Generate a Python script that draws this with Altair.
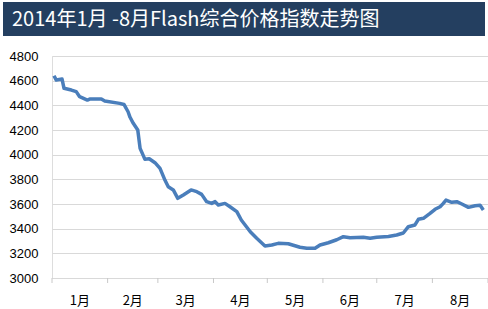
import altair as alt
import pandas as pd

title_text = "2014年1月 -8月Flash综合价格指数走势图"

days = [1.1, 2.4, 5.6, 6.7, 10.8, 13.5, 15.4, 19.7, 21.0, 27.5, 29.4, 37.7, 40.1, 42.4, 43.5,
        45.3, 47.8, 49.1, 51.8, 54.2, 57.4, 60.2, 63.0, 64.8, 67.6, 70.1, 73.2, 77.5, 80.7,
        83.4, 86.2, 89.0, 90.9, 92.7, 96.4, 99.2, 103.0, 105.5, 110.5, 114.1, 118.7, 122.5,
        126.1, 131.7, 138.2, 142.0, 146.6, 149.4, 154.0, 158.7, 162.4, 166.1, 173.5, 177.3,
        181.0, 187.5, 192.1, 195.8, 198.6, 202.3, 204.2, 207.0, 210.7, 213.5, 216.3, 218.1,
        219.6, 222.8, 225.6, 228.4, 232.1, 235.8, 238.6, 240.4]
values = [4640, 4605, 4613, 4538, 4524, 4511, 4470, 4443, 4451, 4451, 4435, 4416, 4407, 4348, 4303,
          4254, 4200, 4051, 3962, 3967, 3935, 3889, 3792, 3740, 3714, 3646, 3673, 3714, 3700,
          3678, 3619, 3605, 3619, 3592, 3605, 3578, 3538, 3470, 3375, 3322, 3260, 3268,
          3281, 3278, 3249, 3241, 3241, 3268, 3286, 3310, 3335, 3326, 3330, 3322,
          3330, 3337, 3349, 3365, 3416, 3430, 3476, 3484, 3524, 3557, 3578, 3605,
          3632, 3614, 3619, 3600, 3573, 3586, 3589, 3551]

month_labels = ["1月", "2月", "3月", "4月", "5月", "6月", "7月", "8月"]
month_days = [31, 28, 31, 30, 31, 30, 31, 31]
y_ticks = [3000, 3200, 3400, 3600, 3800, 4000, 4200, 4400, 4600, 4800]

bounds = [0]
for n in month_days:
    bounds.append(bounds[-1] + n)
mids = [(bounds[i] + bounds[i + 1]) / 2 for i in range(len(month_days))]

df = pd.DataFrame({"d": days, "v": values})
df_months = pd.DataFrame({"mid": mids, "label": month_labels})
df_bounds = pd.DataFrame({"b": bounds})
df_title = pd.DataFrame({"t": [title_text]})

W, H = 436, 222
xscale = alt.Scale(domain=[0, bounds[-1]], nice=False, zero=False)
yscale = alt.Scale(domain=[3000, 4800], nice=False, zero=False)

line = alt.Chart(df).mark_line(color="#4A7EBB", strokeWidth=3.5, strokeJoin="round").encode(
    x=alt.X("d:Q", scale=xscale,
            axis=alt.Axis(title=None, labels=False, ticks=False, grid=False,
                          domain=True, domainColor="#C8C8C8", domainWidth=1)),
    y=alt.Y("v:Q", scale=yscale,
            axis=alt.Axis(title=None, values=y_ticks, format="d", grid=True, gridColor="#D9D9D9",
                          domain=False, ticks=False, labelPadding=14, labelFontSize=13,
                          labelFont="Liberation Sans", labelColor="#000000")),
)

ticks = alt.Chart(df_bounds).mark_rule(color="#C8C8C8", strokeWidth=1).encode(
    x=alt.X("b:Q", scale=xscale, axis=None),
    y=alt.value(H),
    y2=alt.value(H + 5),
)

mlabels = alt.Chart(df_months).mark_text(fontSize=13, font="Noto Sans CJK SC",
                                         baseline="middle", align="center",
                                         color="#000000").encode(
    x=alt.X("mid:Q", scale=xscale, axis=None),
    y=alt.value(H + 23),
    text="label:N",
)

banner = alt.Chart(df_title).mark_rect(color="#243F60").encode(
    x=alt.value(-49), x2=alt.value(433), y=alt.value(-54), y2=alt.value(-20)
)
title = alt.Chart(df_title).mark_text(fontSize=20, font="Noto Sans CJK SC", color="#FFFFFF",
                                      align="left", baseline="middle").encode(
    x=alt.value(-40), y=alt.value(-36), text="t:N"
)

chart = alt.layer(banner, title, ticks, line, mlabels).properties(
    width=W, height=H,
    autosize=alt.AutoSizeParams(type="none"),
    padding={"left": 52, "top": 56, "right": 0, "bottom": 31},
).configure_view(stroke=None).configure(background="#FFFFFF")

chart.save("out.html", embed_options={"renderer": "svg", "actions": False})
